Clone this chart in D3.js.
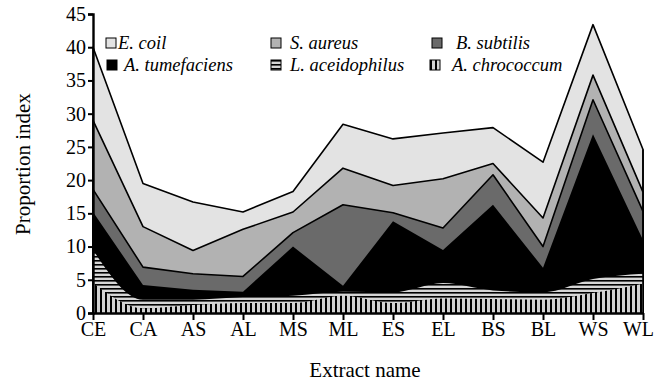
<!DOCTYPE html>
<html><head><meta charset="utf-8">
<script src="https://cdn.jsdelivr.net/npm/d3@7"></script>
<style>
body{margin:0;background:#fff;}
svg{display:block;}
svg text{font-family:"Liberation Serif","Times New Roman",serif !important;}
</style></head>
<body><svg id="chart" width="654" height="385"></svg>
<script>
const categories = ["CE","CA","AS","AL","MS","ML","ES","EL","BS","BL","WS","WL"];
const chrococcum   = [4.5,0.7,1.2,1.5,1.5,2.6,1.5,2.2,2.1,2.0,3.0,4.4];
const aceidophilus = [5.0,1.3,0.8,0.9,1.1,0.6,1.6,2.3,1.3,1.1,2.1,1.5];
const tumefaciens  = [5.7,2.2,1.5,0.8,7.4,0.9,10.7,5.0,12.9,3.7,21.8,5.1];
const subtilis     = [3.4,2.7,2.4,2.3,2.1,12.2,1.3,3.3,4.5,3.2,5.2,4.3];
const aureus       = [10.4,6.1,3.5,7.1,3.1,5.5,4.1,7.4,1.7,4.3,3.7,2.9];
const ecoil        = [11.0,6.5,7.3,2.6,3.1,6.6,7.0,6.9,5.4,8.4,7.6,6.4];
const yTicks = [0,5,10,15,20,25,30,35,40,45];
const seriesNames = ["A. chrococcum","L. aceidophilus","A. tumefaciens","B. subtilis","S. aureus","E. coil"];

const svg = d3.select("#chart");
const X0 = 93, X1 = 643, Y0 = 313, Y1 = 14;
const x = d3.scalePoint().domain(categories).range([X0, X1]);
const y = d3.scaleLinear().domain([0,45]).range([Y0, Y1]);

// patterns
const defs = svg.append("defs");
const pv = defs.append("pattern").attr("id","vstripe").attr("patternUnits","userSpaceOnUse")
  .attr("width",5).attr("height",5);
pv.append("rect").attr("width",5).attr("height",5).attr("fill","#d2d2d2");
pv.append("rect").attr("x",0).attr("width",2).attr("height",5).attr("fill","#000");
const ph = defs.append("pattern").attr("id","hstripe").attr("patternUnits","userSpaceOnUse")
  .attr("width",5).attr("height",4);
ph.append("rect").attr("width",5).attr("height",4).attr("fill","#d6d6d6");
ph.append("rect").attr("y",0).attr("width",5).attr("height",1.6).attr("fill","#000");

const rows = categories.map((c,i)=>({
  cat:c, "A. chrococcum":chrococcum[i], "L. aceidophilus":aceidophilus[i],
  "A. tumefaciens":tumefaciens[i], "B. subtilis":subtilis[i],
  "S. aureus":aureus[i], "E. coil":ecoil[i]
}));
const stacked = d3.stack().keys(seriesNames)(rows);

const styles = {
  "E. coil":        {fill:"#e3e3e3", stroke:true, curve:d3.curveLinear},
  "S. aureus":      {fill:"#b2b2b2", stroke:true, curve:d3.curveLinear},
  "B. subtilis":    {fill:"#6a6a6a", stroke:true, curve:d3.curveLinear},
  "A. tumefaciens": {fill:"#000000", stroke:false, curve:d3.curveLinear},
  "L. aceidophilus":{fill:"url(#hstripe)", stroke:false, curve:d3.curveMonotoneX},
  "A. chrococcum":  {fill:"url(#vstripe)", stroke:false, curve:d3.curveMonotoneX}
};

const g = svg.append("g");
stacked.slice().reverse().forEach(layer=>{
  const st = styles[layer.key];
  const area = d3.area().x(d=>x(d.data.cat)).y0(y(0)).y1(d=>y(d[1])).curve(st.curve);
  g.append("path").datum(layer).attr("d",area).attr("fill",st.fill)
    .attr("stroke",st.stroke?"#000":"none").attr("stroke-width",1.6).attr("stroke-linejoin","round");
});
g.append("line").attr("x1",X1).attr("x2",X1).attr("y1",y(0))
  .attr("y2",y(stacked[stacked.length-1][categories.length-1][1]))
  .attr("stroke","#000").attr("stroke-width",1.6);

// axes
const yAxis = d3.axisLeft(y).tickValues(yTicks).tickSize(5).tickPadding(2);
const ya = svg.append("g").attr("transform",`translate(${X0},0)`).call(yAxis);
ya.attr("font-family",null);
ya.select(".domain").attr("stroke-width",2.4);
ya.selectAll(".tick line").attr("stroke-width",2);
ya.selectAll("text").attr("font-size",20).attr("fill","#000");

const xAxis = d3.axisBottom(x).tickSize(7).tickPadding(2).tickSizeOuter(0);
const xa = svg.append("g").attr("transform",`translate(0,${Y0})`).call(xAxis);
xa.attr("font-family",null);
xa.select(".domain").attr("stroke-width",2.6);
xa.selectAll(".tick line").attr("stroke-width",2);
xa.selectAll("text").attr("font-size",20).attr("fill","#000");
xa.selectAll(".tick").filter(d=>d==="WL").select("text").attr("dx",-5);

// axis titles
svg.append("text").attr("x",365).attr("y",377).attr("text-anchor","middle")
  .attr("font-size",21).text("Extract name");
svg.append("text").attr("transform","translate(30,164) rotate(-90)").attr("text-anchor","middle")
  .attr("font-size",21).text("Proportion index");

// legend
const legendItems = [
  {name:"E. coil", fill:"#e3e3e3", sx:106, tx:118, cy:43},
  {name:"S. aureus", fill:"#b2b2b2", sx:271, tx:290, cy:43},
  {name:"B. subtilis", fill:"#6a6a6a", sx:432, tx:456, cy:43},
  {name:"A. tumefaciens", fill:"#000000", sx:107, tx:124, cy:65},
  {name:"L. aceidophilus", fill:"url(#hstripe)", sx:271, tx:290, cy:65},
  {name:"A. chrococcum", fill:"url(#vstripe)", sx:430, tx:452, cy:65}
];
const lg = svg.append("g");
legendItems.forEach(d=>{
  lg.append("rect").attr("x",d.sx).attr("y",d.cy-5).attr("width",10).attr("height",10)
    .attr("fill",d.fill).attr("stroke","#000").attr("stroke-width",1);
  lg.append("text").attr("x",d.tx).attr("y",d.cy+6).attr("font-size",18.5)
    .attr("font-style","italic").text(d.name);
});
</script></body></html>
